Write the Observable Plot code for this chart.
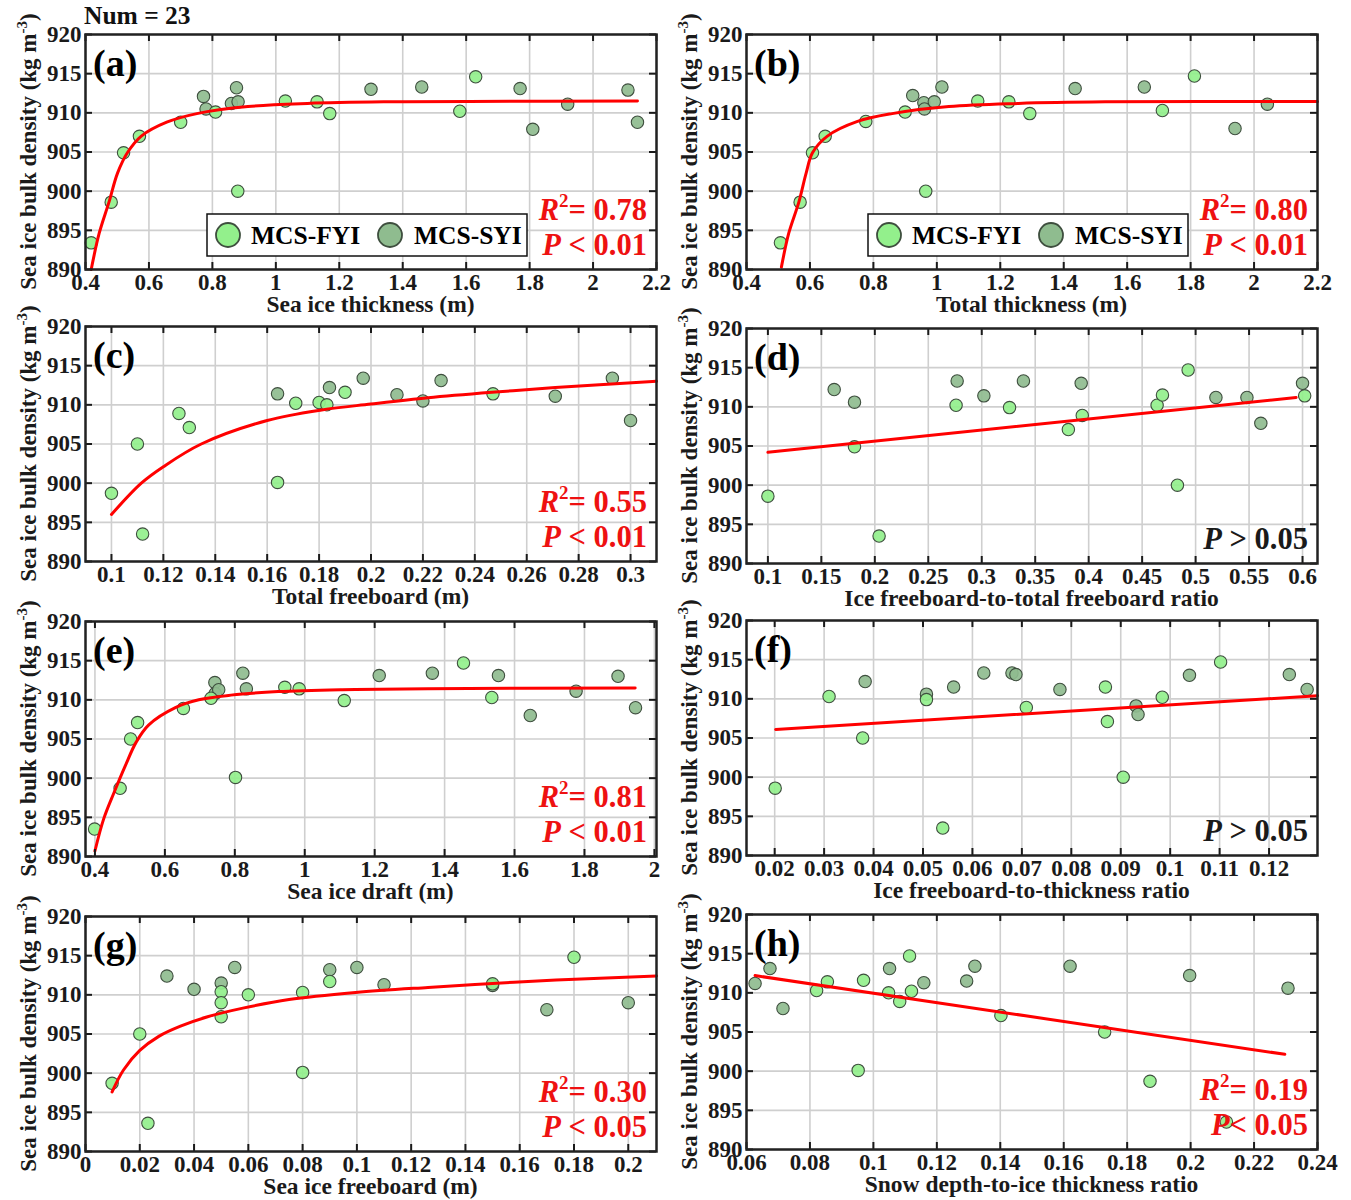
<!DOCTYPE html>
<html><head><meta charset="utf-8">
<script src="https://cdn.jsdelivr.net/npm/d3@7"></script>
<script src="https://cdn.jsdelivr.net/npm/@observablehq/plot@0.6"></script>
<style>
body{margin:0;background:#fff;}
#root{position:relative;width:1351px;height:1200px;background:#fff;font-family:"Liberation Serif","Times New Roman",serif;font-weight:bold;overflow:hidden;}
#root svg{position:absolute;}
#num{position:absolute;left:84px;top:1px;font-size:25.5px;color:#111;}
</style></head><body><div id="root"><div id="num">Num = 23</div></div>
<script>
// ---------- data ----------
const yTicks = [890, 895, 900, 905, 910, 915, 920];

// (a) Sea ice thickness
const aFyiX = [0.418,0.481,0.52,0.57,0.70,0.81,0.88,1.03,1.13,1.17,1.58,1.63];
const aFyiY = [893.4,898.6,904.9,907.0,908.8,910.1,900.0,911.5,911.4,909.9,910.2,914.6];
const aSyiX = [0.772,0.78,0.86,0.876,0.881,1.30,1.46,1.77,1.81,1.92,2.11,2.14];
const aSyiY = [912.1,910.5,911.2,913.2,911.4,913.0,913.3,913.1,907.9,911.1,912.9,908.8];
const aFitX = [0.418,0.443,0.474,0.501,0.532,0.575,0.656,0.751,0.912,1.10,1.34,1.61,2.14];
const aFitY = [890.0,894.6,898.6,902.3,904.9,907.0,908.8,909.9,910.8,911.2,911.4,911.45,911.5];
const aTicks = [0.4,0.6,0.8,1,1.2,1.4,1.6,1.8,2,2.2];

// (b) Total thickness
const bFyiX = [0.507,0.569,0.608,0.648,0.776,0.90,0.965,1.129,1.227,1.293,1.711,1.812];
const bFyiY = [893.4,898.6,904.9,907.0,908.9,910.1,900.0,911.5,911.4,909.9,910.3,914.7];
const bSyiX = [0.924,0.959,0.961,0.992,1.016,1.436,1.654,1.94,2.042];
const bSyiY = [912.2,911.3,910.5,911.4,913.3,913.1,913.3,908.0,911.1];
const bFitX = [0.51,0.533,0.565,0.588,0.608,0.654,0.75,0.859,1.038,1.257,1.531,2.2];
const bFitY = [890.3,894.6,898.6,902.3,904.9,907.0,908.9,909.9,910.8,911.2,911.4,911.45];
const bTicks = [0.4,0.6,0.8,1,1.2,1.4,1.6,1.8,2,2.2];

// (c) Total freeboard
const cFyiX = [0.100,0.110,0.112,0.126,0.130,0.164,0.171,0.180,0.183,0.190,0.247];
const cFyiY = [898.7,905.0,893.5,908.9,907.1,900.1,910.2,910.3,910.0,911.6,911.4];
const cSyiX = [0.164,0.184,0.197,0.210,0.220,0.227,0.271,0.293,0.300];
const cSyiY = [911.4,912.2,913.4,911.3,910.5,913.1,911.1,913.4,908.0];
const cFitX = [0.1,0.1115,0.12,0.1346,0.16,0.181,0.2,0.222,0.2466,0.271,0.31];
const cFitY = [896.0,900.0,902.1,905.0,908.0,909.35,910.1,910.9,911.6,912.2,913.0];
const cTicks = [0.1,0.12,0.14,0.16,0.18,0.2,0.22,0.24,0.26,0.28,0.3];

// (d) Ice freeboard-to-total freeboard ratio
const dFyiX = [0.100,0.181,0.204,0.276,0.326,0.381,0.394,0.464,0.469,0.483,0.493,0.602];
const dFyiY = [898.6,904.9,893.5,910.2,909.9,907.1,908.9,910.2,911.5,900.0,914.7,911.4];
const dSyiX = [0.162,0.181,0.277,0.302,0.339,0.393,0.519,0.548,0.561,0.600];
const dSyiY = [912.2,910.6,913.3,911.4,913.3,913.0,911.2,911.2,907.9,913.0];
const dFitX = [0.1,0.594];
const dFitY = [904.2,911.2];
const dTicks = [0.1,0.15,0.2,0.25,0.3,0.35,0.4,0.45,0.5,0.55,0.6];

// (e) Sea ice draft
const eFyiX = [0.399,0.472,0.502,0.522,0.653,0.732,0.802,0.943,0.984,1.113,1.454,1.535];
const eFyiY = [893.5,898.7,905.0,907.1,908.9,910.2,900.1,911.6,911.4,909.9,914.7,910.3];
const eSyiX = [0.743,0.744,0.754,0.823,0.833,1.213,1.365,1.554,1.645,1.776,1.896,1.946];
const eSyiY = [912.2,910.8,911.3,913.4,911.4,913.1,913.4,913.1,908.0,911.1,913.0,909.0];
const eFitX = [0.4,0.425,0.455,0.487,0.518,0.554,0.63,0.697,0.789,0.924,1.107,1.352,1.945];
const eFitY = [890.7,894.8,898.2,901.6,904.6,906.8,909.0,910.0,910.6,911.05,911.3,911.43,911.5];
const eTicks = [0.4,0.6,0.8,1,1.2,1.4,1.6,1.8,2];

// (f) Ice freeboard-to-thickness ratio
const fFyiX = [0.0201,0.0310,0.0378,0.0507,0.0540,0.0709,0.0869,0.0873,0.0905,0.0984,0.1102];
const fFyiY = [898.6,910.3,905.0,909.9,893.5,908.9,911.5,907.1,900.0,910.2,914.7];
const fSyiX = [0.0383,0.0507,0.0562,0.0623,0.0680,0.0688,0.0777,0.0931,0.0935,0.1039,0.1241,0.1277];
const fSyiY = [912.2,910.6,911.5,913.3,913.3,913.1,911.2,909.1,908.0,913.0,913.1,911.2];
const fFitX = [0.0202,0.1298];
const fFitY = [906.1,910.4];
const fTicks = [0.02,0.03,0.04,0.05,0.06,0.07,0.08,0.09,0.1,0.11,0.12];

// (g) Sea ice freeboard
const gFyiX = [0.0098,0.020,0.023,0.050,0.050,0.050,0.060,0.080,0.080,0.090,0.150,0.180];
const gFyiY = [898.7,905.0,893.6,910.4,909.0,907.2,910.0,910.3,900.1,911.7,911.4,914.8];
const gSyiX = [0.030,0.040,0.050,0.055,0.090,0.100,0.110,0.150,0.170,0.200];
const gSyiY = [912.4,910.7,911.5,913.5,913.2,913.5,911.3,911.2,908.1,909.0];
const gFitX = [0.0098,0.014,0.02,0.027,0.035,0.045,0.058,0.075,0.0995,0.1262,0.15,0.1734,0.2104];
const gFitY = [897.6,900.4,902.9,904.7,906.0,907.2,908.3,909.4,910.3,910.95,911.45,911.9,912.4];
const gTicks = [0,0.02,0.04,0.06,0.08,0.1,0.12,0.14,0.16,0.18,0.2];

// (h) Snow depth-to-ice thickness ratio
const hFyiX = [0.0821,0.0855,0.0952,0.0969,0.1048,0.1083,0.1114,0.1120,0.1402,0.1729,0.1872,0.2113];
const hFyiY = [910.3,911.4,900.1,911.6,910.0,908.9,914.7,910.2,907.1,905.0,898.7,893.5];
const hSyiX = [0.0627,0.0674,0.0715,0.1051,0.1159,0.1294,0.1320,0.1620,0.1997,0.2307];
const hSyiY = [911.2,913.1,908.0,913.1,911.3,911.5,913.4,913.4,912.2,910.6];
const hFitX = [0.0627,0.2297];
const hFitY = [912.2,902.15];
const hTicks = [0.06,0.08,0.1,0.12,0.14,0.16,0.18,0.2,0.22,0.24];

const legendLabels = ["MCS-FYI", "MCS-SYI"];

const panels = [
  {tag:"(a)", col:0, top:34, dom:[0.4,2.2], ticks:aTicks, label:"Sea ice thickness (m)", fx:aFyiX, fy:aFyiY, sx:aSyiX, sy:aSyiY, lx:aFitX, ly:aFitY, r2:"0.78", p:"< 0.01", red:true, legend:true},
  {tag:"(b)", col:1, top:34, dom:[0.4,2.2], ticks:bTicks, label:"Total thickness (m)", fx:bFyiX, fy:bFyiY, sx:bSyiX, sy:bSyiY, lx:bFitX, ly:bFitY, r2:"0.80", p:"< 0.01", red:true, legend:true},
  {tag:"(c)", col:0, top:326, dom:[0.09,0.31], ticks:cTicks, label:"Total freeboard (m)", fx:cFyiX, fy:cFyiY, sx:cSyiX, sy:cSyiY, lx:cFitX, ly:cFitY, r2:"0.55", p:"< 0.01", red:true},
  {tag:"(d)", col:1, top:328, dom:[0.08,0.614], ticks:dTicks, label:"Ice freeboard-to-total freeboard ratio", fx:dFyiX, fy:dFyiY, sx:dSyiX, sy:dSyiY, lx:dFitX, ly:dFitY, r2:null, p:"> 0.05", red:false},
  {tag:"(e)", col:0, top:621, dom:[0.373,2.006], ticks:eTicks, label:"Sea ice draft (m)", fx:eFyiX, fy:eFyiY, sx:eSyiX, sy:eSyiY, lx:eFitX, ly:eFitY, r2:"0.81", p:"< 0.01", red:true},
  {tag:"(f)", col:1, top:620, dom:[0.0143,0.1298], ticks:fTicks, label:"Ice freeboard-to-thickness ratio", fx:fFyiX, fy:fFyiY, sx:fSyiX, sy:fSyiY, lx:fFitX, ly:fFitY, r2:null, p:"> 0.05", red:false},
  {tag:"(g)", col:0, top:916, dom:[0,0.2104], ticks:gTicks, label:"Sea ice freeboard (m)", fx:gFyiX, fy:gFyiY, sx:gSyiX, sy:gSyiY, lx:gFitX, ly:gFitY, r2:"0.30", p:"< 0.05", red:true},
  {tag:"(h)", col:1, top:914, dom:[0.06,0.24], ticks:hTicks, label:"Snow depth-to-ice thickness ratio", fx:hFyiX, fy:hFyiY, sx:hSyiX, sy:hSyiY, lx:hFitX, ly:hFitY, r2:"0.19", p:"< 0.05", red:true, tightP:true}
];

const FYI_FILL = "#93f08c", SYI_FILL = "#8fbc8f", DOT_STROKE = "#3e4e3e";
const RED = "#ee1111", INK = "#1a1a1a";
const PW = 571, PH = 235;

const root = document.getElementById("root");

function drawPanel(p) {
  const W = p.col ? 681 : 670;
  const ml = p.col ? 76 : 85;
  const mr = W - ml - PW;
  const mt = 30, mb = 55;
  const H = mt + PH + mb;
  const fyi = p.fx.map((x, i) => ({x, y: p.fy[i]}));
  const syi = p.sx.map((x, i) => ({x, y: p.sy[i]}));
  const fit = p.lx.map((x, i) => ({x, y: p.ly[i]}));
  const chart = Plot.plot({
    width: W, height: H,
    marginLeft: ml, marginRight: mr, marginTop: mt, marginBottom: mb,
    x: {domain: p.dom},
    y: {domain: [890, 920]},
    style: {background: "transparent", fontFamily: "'Liberation Serif','Times New Roman',serif", fontSize: "23px", fontWeight: "bold", color: INK, overflow: "visible"},
    marks: [
      Plot.gridX(p.ticks, {stroke: "#cfcfcf", strokeOpacity: 1, strokeWidth: 1.6}),
      Plot.gridY(yTicks, {stroke: "#cfcfcf", strokeOpacity: 1, strokeWidth: 1.6}),
      Plot.axisX(p.ticks, {tickSize: 0, tickPadding: 4, tickFormat: d => String(d), label: null, fill: INK}),
      Plot.axisY(yTicks, {tickSize: 0, tickPadding: 4, tickFormat: d => String(d), label: null, fill: INK}),
      Plot.dot(syi, {x: "x", y: "y", r: 6.2, fill: SYI_FILL, fillOpacity: 0.92, stroke: DOT_STROKE, strokeWidth: 1.1}),
      Plot.dot(fyi, {x: "x", y: "y", r: 6.2, fill: FYI_FILL, fillOpacity: 0.92, stroke: DOT_STROKE, strokeWidth: 1.1}),
      Plot.line(fit, {x: "x", y: "y", stroke: "#ff0000", strokeWidth: 3, curve: "catmull-rom"}),
      Plot.tickX(p.ticks, {x: d => d, insetTop: PH - 7, stroke: INK, strokeWidth: 2}),
      Plot.tickX(p.ticks, {x: d => d, insetBottom: PH - 7, stroke: INK, strokeWidth: 2}),
      Plot.tickY(yTicks, {y: d => d, insetRight: PW - 7, stroke: INK, strokeWidth: 2}),
      Plot.tickY(yTicks, {y: d => d, insetLeft: PW - 7, stroke: INK, strokeWidth: 2}),
      Plot.frame({stroke: "#222", strokeWidth: 2.5})
    ]
  });
  chart.style.left = (p.col ? 670 : 0) + "px";
  chart.style.top = (p.top - mt) + "px";
  const svg = d3.select(chart);
  const ff = "'Liberation Serif','Times New Roman',serif";

  // x label
  svg.append("text").attr("x", ml + PW / 2).attr("y", mt + PH + 43)
    .attr("text-anchor", "middle").attr("font-family", ff).attr("font-size", 23.5)
    .attr("font-weight", "bold").attr("fill", INK).text(p.label);

  // y label with superscript
  const yl = svg.append("text")
    .attr("transform", `translate(${ml - 49},${mt + PH / 2}) rotate(-90)`)
    .attr("text-anchor", "middle").attr("font-family", ff).attr("font-size", 23)
    .attr("font-weight", "bold").attr("fill", INK);
  yl.append("tspan").text("Sea ice bulk density (kg m");
  yl.append("tspan").attr("dy", -9).attr("font-size", 15).text("-3");
  yl.append("tspan").attr("dy", 9).text(")");

  // panel tag
  svg.append("text").attr("x", ml + 8).attr("y", mt + 42)
    .attr("text-anchor", "start")
    .attr("font-family", ff).attr("font-size", 38).attr("font-weight", "bold")
    .attr("fill", "#000").text(p.tag);

  // statistics
  const sc = p.red ? RED : INK;
  const xr = ml + PW - 9;
  if (p.r2) {
    const t = svg.append("text").attr("x", xr).attr("y", mt + 186)
      .attr("text-anchor", "end").attr("font-family", ff).attr("font-size", 30.5)
      .attr("font-weight", "bold").attr("fill", sc);
    t.append("tspan").attr("font-style", "italic").text("R");
    t.append("tspan").attr("dy", -13).attr("font-size", 19).text("2");
    t.append("tspan").attr("dy", 13).text("= " + p.r2);
  }
  const tp = svg.append("text").attr("x", xr).attr("y", mt + 221)
    .attr("text-anchor", "end").attr("font-family", ff).attr("font-size", 30.5)
    .attr("font-weight", "bold").attr("fill", sc);
  tp.append("tspan").attr("font-style", "italic").text("P");
  tp.append("tspan").text((p.tightP ? "" : " ") + p.p);

  // legend
  if (p.legend) {
    const lx = ml + 122, ly = mt + 180;
    const g = svg.append("g");
    g.append("rect").attr("x", lx).attr("y", ly).attr("width", 320).attr("height", 42)
      .attr("fill", "#fff").attr("stroke", "#111").attr("stroke-width", 1.5);
    const items = [[FYI_FILL, 21, 44], [SYI_FILL, 183, 207]];
    items.forEach(([fill, cx, tx], i) => {
      g.append("circle").attr("cx", lx + cx).attr("cy", ly + 21).attr("r", 12)
        .attr("fill", fill).attr("stroke", DOT_STROKE).attr("stroke-width", 1.8);
      g.append("text").attr("x", lx + tx).attr("y", ly + 30)
        .attr("text-anchor", "start")
        .attr("font-family", ff).attr("font-size", 25.5).attr("font-weight", "bold")
        .attr("fill", "#000").text(legendLabels[i]);
    });
  }
  root.appendChild(chart);
}

panels.forEach(drawPanel);
</script>
</body></html>
